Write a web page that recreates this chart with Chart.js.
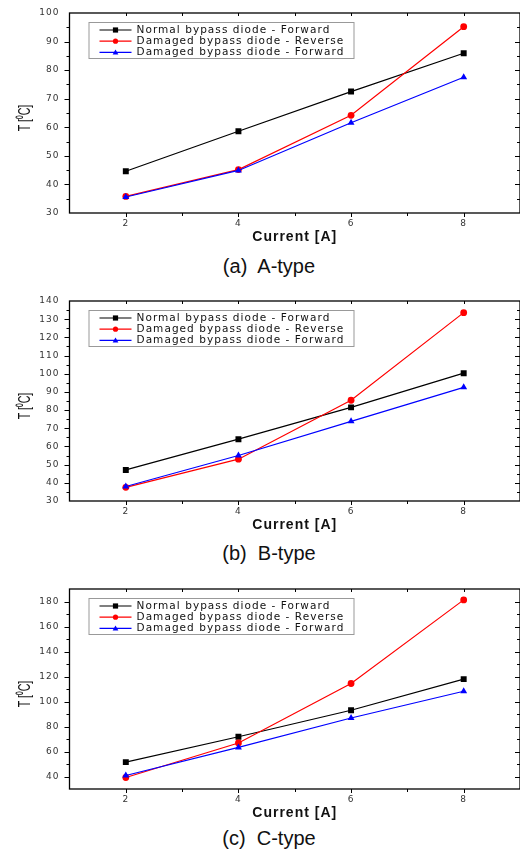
<!DOCTYPE html>
<html>
<head>
<meta charset="utf-8">
<script src="https://cdn.jsdelivr.net/npm/chart.js@4.4.0/dist/chart.umd.min.js"></script>
<style>
  body { margin: 0; background: #fff; width: 520px; height: 851px; position: relative; overflow: hidden; }
  canvas { position: absolute; left: 0; }
  .cap { position: absolute; left: 0; width: 538px; text-align: center; white-space: pre;
         font: 20px 'Liberation Sans', Arial, sans-serif; line-height: 24px; color: #111; }
</style>
</head>
<body>
<canvas id="chartA" width="520" height="246" style="top:0px"></canvas>
<div class="cap" style="top:254px">(a)  A-type</div>
<canvas id="chartB" width="520" height="246" style="top:288px"></canvas>
<div class="cap" style="top:541px">(b)  B-type</div>
<canvas id="chartC" width="520" height="246" style="top:576px"></canvas>
<div class="cap" style="top:826px">(c)  C-type</div>

<script>
// data
const current = [2, 4, 6, 8];
const seriesNames = ["Normal bypass diode - Forward", "Damaged bypass diode - Reverse", "Damaged bypass diode - Forward"];

const aNormalFwd = [44.6, 58.6, 72.5, 85.9];
const aDamagedRev = [35.8, 45.2, 64.2, 95.2];
const aDamagedFwd = [35.6, 44.9, 61.6, 77.5];

const bNormalFwd = [47.1, 64.0, 81.5, 100.3];
const bDamagedRev = [37.5, 53.0, 85.4, 133.6];
const bDamagedFwd = [38.0, 55.0, 73.8, 92.5];

const cNormalFwd = [51.5, 71.8, 93.0, 117.9];
const cDamagedRev = [39.2, 66.8, 114.4, 181.3];
const cDamagedFwd = [40.8, 63.3, 86.8, 108.2];

const xMin = 1, xMax = 9;
const yMins = [30, 30, 30];
const yMaxs = [100, 140, 190];
const ySteps = [5, 5, 10];
const yLabelSteps = [10, 10, 20];

const colors = ["#000000", "#ff0000", "#0000ff"];
const markers = ["rect", "circle", "triangle"];

function drawMarker(ctx, style, x, y, r) {
  ctx.beginPath();
  if (style === "rect") {
    ctx.rect(x - r, y - r, 2 * r, 2 * r);
  } else if (style === "circle") {
    ctx.arc(x, y, r, 0, Math.PI * 2);
  } else {
    ctx.moveTo(x, y - r * 1.1);
    ctx.lineTo(x + r * 1.1, y + r * 0.8);
    ctx.lineTo(x - r * 1.1, y + r * 0.8);
    ctx.closePath();
  }
  ctx.fill();
}

const framePlugin = {
  id: "frame",
  beforeDraw(chart) {
    chart.ctx.letterSpacing = "1px";
  },
  afterDraw(chart, args, opts) {
    const ctx = chart.ctx;
    const a = chart.chartArea;
    const x = chart.scales.x, y = chart.scales.y;
    ctx.save();
    ctx.letterSpacing = "0px";
    ctx.strokeStyle = "#000";
    ctx.lineWidth = 1.3;
    ctx.strokeRect(a.left, a.top, a.right - a.left, a.bottom - a.top);

    // tick marks: outward on left/bottom, inward on top/right
    ctx.lineWidth = 1;
    ctx.beginPath();
    x.ticks.forEach(t => {
      if (t.value <= x.min || t.value >= x.max) return;
      const px = Math.round(x.getPixelForValue(t.value)) + 0.5;
      const major = t.value % 2 === 0;
      ctx.moveTo(px, a.bottom); ctx.lineTo(px, a.bottom + (major ? 4 : 3));
      ctx.moveTo(px, a.top); ctx.lineTo(px, a.top + 3);
    });
    y.ticks.forEach(t => {
      if (t.value <= y.min || t.value >= y.max) return;
      const py = Math.round(y.getPixelForValue(t.value)) + 0.5;
      const major = t.value % opts.labelStep === 0;
      const len = major ? 5 : 3;
      ctx.moveTo(a.left - len, py); ctx.lineTo(a.left, py);
      ctx.moveTo(a.right - len, py); ctx.lineTo(a.right, py);
    });
    ctx.stroke();

    // y axis title, narrow like the original
    ctx.save();
    ctx.translate(25, (a.top + a.bottom) / 2 + 5);
    ctx.rotate(-Math.PI / 2);
    ctx.scale(0.62, 1);
    ctx.fillStyle = "#111";
    ctx.font = "17px 'Liberation Sans', Arial, sans-serif";
    ctx.textAlign = "center";
    ctx.textBaseline = "middle";
    ctx.fillText("T [\u2070C]", 0, 0);
    ctx.restore();

    // legend box
    const bx = a.left + 19, by = a.top + 9;
    ctx.fillStyle = "#fff";
    ctx.fillRect(bx, by, 265, 36);
    ctx.strokeStyle = "#999";
    ctx.strokeRect(bx + 0.5, by + 0.5, 265, 36);
    ctx.font = "10.5px 'DejaVu Sans', sans-serif";
    ctx.letterSpacing = "1.05px";
    ctx.textAlign = "left";
    ctx.textBaseline = "middle";
    seriesNames.forEach((name, i) => {
      const ry = by + 8 + i * 11.2;
      ctx.strokeStyle = colors[i];
      ctx.lineWidth = 1.2;
      ctx.beginPath();
      ctx.moveTo(a.left + 30, ry); ctx.lineTo(a.left + 62, ry);
      ctx.stroke();
      ctx.fillStyle = colors[i];
      drawMarker(ctx, markers[i], a.left + 46, ry, 2.6);
      ctx.fillStyle = "#111";
      ctx.fillText(name, a.left + 67, ry);
    });
    ctx.restore();
  }
};

function makeChart(id, idx, s1, s2, s3) {
  const sets = [s1, s2, s3].map((vals, i) => ({
    label: seriesNames[i],
    data: current.map((c, k) => ({ x: c, y: vals[k] })),
    borderColor: colors[i],
    backgroundColor: colors[i],
    borderWidth: 1.2,
    pointStyle: markers[i],
    pointRadius: i === 0 ? 4.2 : (i === 1 ? 3.4 : 4),
    pointBorderWidth: 0,
    order: 3 - i
  }));

  return new Chart(document.getElementById(id), {
    type: "line",
    data: { datasets: sets },
    options: {
      responsive: false,
      animation: false,
      layout: { autoPadding: false, padding: { top: 13, left: 0, right: -1, bottom: 0 } },
      plugins: {
        legend: { display: false },
        tooltip: { enabled: false },
        frame: { labelStep: yLabelSteps[idx] }
      },
      scales: {
        x: {
          type: "linear",
          min: xMin,
          max: xMax,
          grid: { display: false, drawTicks: false },
          border: { display: false },
          afterFit: s => { s.height = 33; s.paddingLeft = 0; s.paddingRight = 0; },
          ticks: {
            stepSize: 1,
            autoSkip: false,
            maxRotation: 0,
            padding: 5,
            color: "#333",
            font: { family: "DejaVu Sans", size: 9 },
            callback: v => (v % 2 === 0 ? v : "")
          },
          title: {
            display: true,
            text: "Current [A]",
            color: "#111",
            padding: { top: 0, bottom: 0 },
            font: { family: "Liberation Sans", size: 14, weight: "bold" }
          }
        },
        y: {
          min: yMins[idx],
          max: yMaxs[idx],
          grid: { display: false, drawTicks: false },
          border: { display: false },
          afterFit: s => { s.width = 69.5; s.paddingTop = 0; s.paddingBottom = 0; },
          ticks: {
            stepSize: ySteps[idx],
            autoSkip: false,
            padding: 10,
            color: "#333",
            font: { family: "DejaVu Sans", size: 9 },
            callback: v => (v % yLabelSteps[idx] === 0 ? v : "")
          }
        }
      }
    },
    plugins: [framePlugin]
  });
}

makeChart("chartA", 0, aNormalFwd, aDamagedRev, aDamagedFwd);
makeChart("chartB", 1, bNormalFwd, bDamagedRev, bDamagedFwd);
makeChart("chartC", 2, cNormalFwd, cDamagedRev, cDamagedFwd);
</script>
</body>
</html>
